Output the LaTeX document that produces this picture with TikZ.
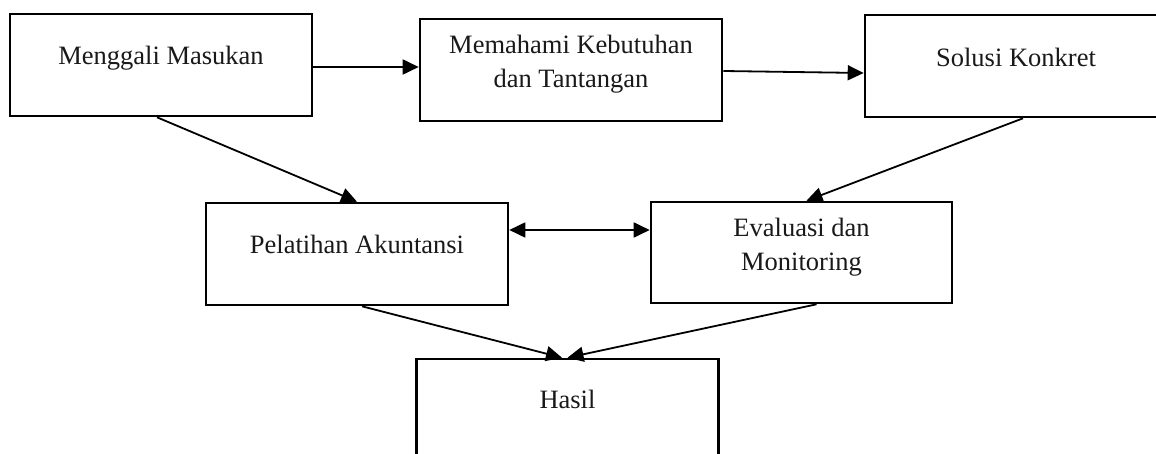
\documentclass[tikz,border=0pt]{standalone}
\usepackage{fontspec}
\setmainfont{Liberation Serif}
\usetikzlibrary{arrows.meta,calc}
\tikzset{
  box/.style={draw=black, line width=1.3pt, rectangle, minimum width=151pt, minimum height=51pt, inner sep=0pt, fill=white},
  lbl/.style={font=\fontsize{13.25}{17}\selectfont, inner sep=0pt, align=center, text=black!90},
  arr/.style={draw=black, line width=0.9pt, -{Triangle[length=8pt,width=7.5pt]}},
  darr/.style={draw=black, line width=0.9pt, {Triangle[length=8pt,width=7.5pt]}-{Triangle[length=8pt,width=7.5pt]}}
}
\begin{document}
\begin{tikzpicture}[x=0.5pt,y=-0.5pt]
\clip (0,0) rectangle (1156,454);
\fill[white] (0,0) rectangle (1156,454);
% boxes
\node[box] (b1) at (161,65) {};
\node[box] (b2) at (571,70) {};
\node[box] (b3) at (1016,66) {};
\node[box] (b4) at (357,254) {};
\node[box, minimum width=150.5pt, minimum height=50.5pt] (b5) at (801.5,252.5) {};
\node[box] (b6) at (567.5,410) {};
% texts
\node[lbl, anchor=base] (t1) at ($(b1.north)+(0,52)$) {Menggali Masukan};
\node[lbl, anchor=base] (t2) at ($(b2.north)+(0,70)$) {Memahami Kebutuhan\\dan Tantangan};
\node[lbl, anchor=base] (t3) at ($(b3.north)+(0,53)$) {Solusi Konkret};
\node[lbl, anchor=base] (t4) at ($(b4.north)+(0,52)$) {Pelatihan Akuntansi};
\node[lbl, anchor=base] (t5) at ($(b5.north)+(0,70)$) {Evaluasi dan\\Monitoring};
\node[lbl, anchor=base] (t6) at ($(b6.north)+(0,51)$) {Hasil};
% connectors
\draw[arr] ($(b1.east)+(0,2)$) -- ($(b2.west)+(0,-3)$);
\draw[arr] ($(b2.east)+(0,1)$) -- ($(b3.west)+(0,7)$);
\draw[arr] ($(b1.south)+(-4,0)$) -- (b4.north);
\draw[arr] ($(b3.south)+(7,0)$) -- ($(b5.north)+(5,0)$);
\draw[darr] ($(b4.east)+(0,-24)$) -- ($(b5.west)+(0,-22.5)$);
\draw[arr] ($(b4.south)+(5,0)$) -- ($(b6.north)+(-5.5,0)$);
\draw[arr] ($(b5.south)+(15,0)$) -- ($(b6.north)+(0,0)$);
\end{tikzpicture}
\end{document}
